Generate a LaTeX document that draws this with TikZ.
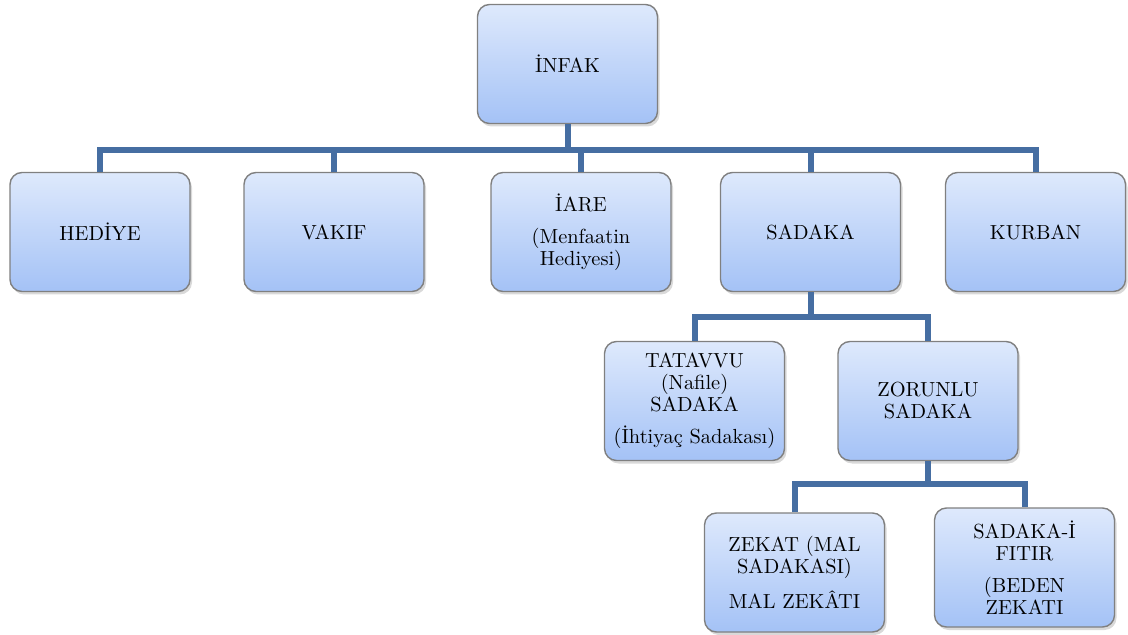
\documentclass[tikz,border=0pt]{standalone}
\usetikzlibrary{shadows}

\definecolor{boxtop}{RGB}{222,233,252}
\definecolor{boxbottom}{RGB}{164,194,246}
\definecolor{boxline}{RGB}{128,128,128}
\definecolor{linkblue}{RGB}{70,110,162}

\begin{document}
\begin{tikzpicture}[
  x=0.5pt, y=-0.5pt,
  block/.style={rectangle, rounded corners=6pt, draw=boxline, line width=0.7pt,
    top color=boxtop, bottom color=boxbottom, minimum width=90pt, minimum height=59.5pt,
    align=center, font=\fontsize{10.2}{11}\selectfont,
    drop shadow={opacity=0.3, shadow xshift=1pt, shadow yshift=-1.5pt}},
  link/.style={draw=linkblue, line width=3pt}
]
\useasboundingbox (0,0) rectangle (1128,635);

\node[block] (infak) at (567.5,64) {İNFAK};
\node[block] (hediye) at (100,232) {HEDİYE};
\node[block] (vakif) at (334,232) {VAKIF};
\node[block] (iare) at (581,232) {İARE\\[5pt](Menfaatin\\Hediyesi)};
\node[block] (sadaka) at (810.5,232) {SADAKA};
\node[block] (kurban) at (1035.5,232) {KURBAN};
\node[block] (tatavvu) at (694.5,401) {TATAVVU\\(Nafile)\\SADAKA\\[5pt](İhtiyaç Sadakası)};
\node[block] (zorunlu) at (928,401) {ZORUNLU\\SADAKA};
\node[block] (zekat) at (794.5,572.5) {ZEKAT (MAL\\SADAKASI)\\[5pt]MAL ZEKÂTI};
\node[block] (fitir) at (1024.5,567.5) {SADAKA-İ\\FITIR\\[5pt](BEDEN\\ZEKATI};

% Connectors
\coordinate (bus1) at (0,150);
\coordinate (bus2) at (0,317);
\coordinate (bus3) at (0,484);
\draw[link] (infak.south) -- (infak.south |- bus1);
\draw[link] (hediye.north) -- (hediye.north |- bus1) -- (kurban.north |- bus1) -- (kurban.north);
\foreach \n in {vakif,iare,sadaka}
  \draw[link] (\n.north) -- (\n.north |- bus1);

\draw[link] (sadaka.south) -- (sadaka.south |- bus2);
\draw[link] (tatavvu.north) -- (tatavvu.north |- bus2) -- (zorunlu.north |- bus2) -- (zorunlu.north);

\draw[link] (zorunlu.south) -- (zorunlu.south |- bus3);
\draw[link] (zekat.north) -- (zekat.north |- bus3) -- (fitir.north |- bus3) -- (fitir.north);

\end{tikzpicture}
\end{document}
